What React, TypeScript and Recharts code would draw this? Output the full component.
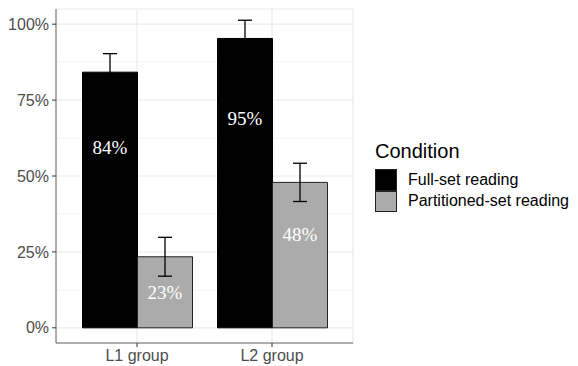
import React from "react";
import {
  BarChart,
  Bar,
  XAxis,
  YAxis,
  CartesianGrid,
  ErrorBar,
  LabelList,
  Legend,
} from "recharts";

const groups = ["L1 group", "L2 group"];
const fullSet = [84.2, 95.3];
const fullSetErr = [6.1, 6.0];
const partitioned = [23.4, 47.9];
const partitionedErr = [6.4, 6.3];
// where the white value labels sit, in axis units
const fullLabelAt = [59.5, 68.8];
const partitionedLabelAt = [11.5, 30.6];
const yTicks = [0, 25, 50, 75, 100];
const minorTicks = [12.5, 37.5, 62.5, 87.5];
const yDomain = [-5, 105];
const seriesNames = ["Full-set reading", "Partitioned-set reading"];
const seriesFills = ["#000000", "#ABABAB"];

const data = groups.map((g, i) => ({
  group: g,
  full: fullSet[i],
  fullErr: fullSetErr[i],
  part: partitioned[i],
  partErr: partitionedErr[i],
}));

const sans = "'Liberation Sans', Arial, Helvetica, sans-serif";
const serif = "'Liberation Serif', 'Times New Roman', serif";

const valueLabel = (pos: number[]) => (props: any) => {
  const { x, y, width, height, value, index } = props;
  const unit = Number(height) / Number(value);
  const cy = Number(y) + Number(height) - pos[index] * unit;
  return (
    <text
      x={Number(x) + Number(width) / 2}
      y={cy}
      textAnchor="middle"
      dominantBaseline="central"
      fill="#fff"
      fontFamily={serif}
      fontSize={19}
    >
      {Math.round(Number(value))}%
    </text>
  );
};

// minor grid lines halfway between the major ticks
const minorGrid = ({ yAxis, offset }: any) => {
  if (yAxis && typeof yAxis.scale === "function") {
    return minorTicks.map((t) => yAxis.scale(t));
  }
  const [lo, hi] = yDomain;
  return minorTicks.map(
    (t) => offset.top + (offset.height * (hi - t)) / (hi - lo)
  );
};

function LegendBox() {
  return (
    <div style={{ fontFamily: sans, color: "#000" }}>
      <div style={{ fontSize: 20, lineHeight: "23px", marginBottom: 6 }}>
        Condition
      </div>
      {seriesNames.map((name, i) => (
        <div
          key={name}
          style={{ display: "flex", alignItems: "center", height: 21.5 }}
        >
          <span
            style={{
              display: "inline-block",
              width: 22,
              height: 21.5,
              boxSizing: "border-box",
              background: seriesFills[i],
              border: "1px solid #222",
            }}
          />
          <span style={{ marginLeft: 11, fontSize: 16 }}>{name}</span>
        </div>
      ))}
    </div>
  );
}

export default function App() {
  return (
    <div
      style={{
        position: "absolute",
        left: 0,
        top: 0,
        width: 578,
        height: 366,
        background: "#fff",
      }}
    >
      <BarChart
        width={578}
        height={366}
        data={data}
        margin={{ top: 9, right: 225, bottom: 0, left: 0 }}
        barGap={0}
      >
        <CartesianGrid
          stroke="#F4F4F4"
          vertical={false}
          horizontalCoordinatesGenerator={minorGrid}
        />
        <CartesianGrid stroke="#EBEBEB" strokeWidth={1.2} />
        <XAxis
          dataKey="group"
          padding={{ left: 13.5, right: 13.5 }}
          height={23}
          tickSize={4}
          tickMargin={3}
          axisLine={{ stroke: "#666" }}
          tickLine={{ stroke: "#333" }}
          tick={{ fill: "#4D4D4D", fontSize: 16, fontFamily: sans }}
        />
        <XAxis
          xAxisId="top"
          orientation="top"
          dataKey="group"
          height={0}
          tick={false}
          tickLine={false}
          axisLine={{ stroke: "#666" }}
        />
        <YAxis
          domain={yDomain}
          ticks={yTicks}
          tickFormatter={(v) => `${v}%`}
          width={56}
          tickSize={4}
          tickMargin={3}
          axisLine={{ stroke: "#666" }}
          tickLine={{ stroke: "#333" }}
          tick={{ fill: "#4D4D4D", fontSize: 16, fontFamily: sans }}
        />
        <YAxis
          yAxisId="right"
          orientation="right"
          domain={yDomain}
          width={0}
          tick={false}
          tickLine={false}
          axisLine={{ stroke: "#666" }}
        />
        <Bar
          dataKey="full"
          name={seriesNames[0]}
          fill={seriesFills[0]}
          stroke="#000"
          strokeWidth={1}
          barSize={55}
          isAnimationActive={false}
        >
          <ErrorBar
            dataKey="fullErr"
            width={7}
            stroke="#000"
            strokeWidth={1.3}
            direction="y"
          />
          <LabelList dataKey="full" content={valueLabel(fullLabelAt)} />
        </Bar>
        <Bar
          dataKey="part"
          name={seriesNames[1]}
          fill={seriesFills[1]}
          stroke="#222"
          strokeWidth={1}
          barSize={55}
          isAnimationActive={false}
        >
          <ErrorBar
            dataKey="partErr"
            width={7}
            stroke="#000"
            strokeWidth={1.3}
            direction="y"
          />
          <LabelList dataKey="part" content={valueLabel(partitionedLabelAt)} />
        </Bar>
        <Legend
          layout="horizontal"
          align="center"
          verticalAlign="middle"
          wrapperStyle={{ left: 375, top: 140, width: 200 }}
          content={() => <LegendBox />}
        />
      </BarChart>
    </div>
  );
}
